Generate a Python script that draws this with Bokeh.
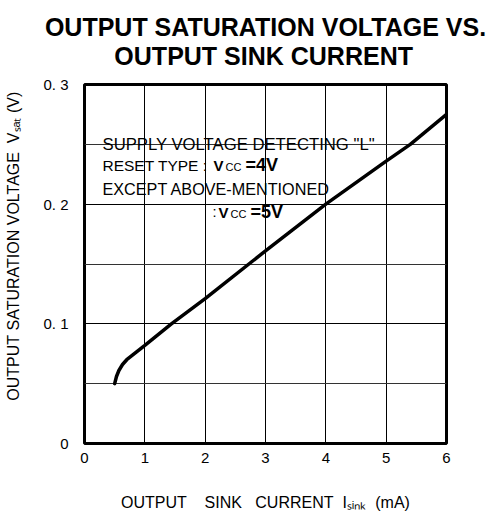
from bokeh.plotting import figure
from bokeh.models import Range1d, FixedTicker, Label, Title
from bokeh.embed import file_html
from bokeh.resources import INLINE

# ---- data ----
isink = [0.5, 0.53, 0.57, 0.63, 0.7, 0.8, 0.9, 1.0, 1.44, 2.0, 3.0, 4.0, 5.0, 5.4, 6.0]
vsat = [0.05, 0.056, 0.061, 0.066, 0.070, 0.074, 0.078, 0.082, 0.100, 0.121, 0.161, 0.200, 0.236, 0.250, 0.275]
x_ticks = [0, 1, 2, 3, 4, 5, 6]
y_ticks = [0, 0.1, 0.2, 0.3]
y_minor = [0.05, 0.15, 0.25]
y_tick_labels = ["0", "0. 1", "0. 2", "0. 3"]
title_lines = ["OUTPUT SATURATION VOLTAGE VS.", "OUTPUT SINK CURRENT"]
NB = "\u00a0"
x_title = (f"OUTPUT{NB*4}SINK{NB*3}CURRENT{NB*2}I\u209b\u1d62\u2099\u2096{NB*2}(mA)")
y_title = NB * 8 + f"OUTPUT{NB}SATURATION{NB}VOLTAGE{NB}{NB}V\u209b\u2090\u209c{NB}(V)"

FONT = "Liberation Sans"
W, H = 487, 519
# frame edges in canvas pixels
FL, FR, FT, FB = 84, 446, 83, 443
XMAX, YMAX = 6, 0.3

p = figure(width=W, height=H, output_backend="svg", toolbar_location=None,
           title=None,
           x_range=Range1d(0, XMAX), y_range=Range1d(0, YMAX),
           min_border_left=FL, min_border_right=W - FR,
           min_border_top=FT, min_border_bottom=H - FB)
p.background_fill_color = "white"
p.border_fill_color = "white"
p.outline_line_color = "black"
p.outline_line_width = 3

# two-line bold title; the second line is indented so that it sits centred
p.add_layout(Title(text=title_lines[0] + "\n" + NB * 10 + title_lines[1],
                   align="center", vertical_align="top", text_font=FONT,
                   text_font_size="25px", text_font_style="bold",
                   text_line_height=1.06,
                   text_color="black", standoff=24), "above")

p.xaxis.ticker = FixedTicker(ticks=x_ticks)
p.yaxis.ticker = FixedTicker(ticks=y_ticks, minor_ticks=y_minor)
p.yaxis.major_label_overrides = {t: s for t, s in zip(y_ticks, y_tick_labels)}
for ax in (p.xaxis[0], p.yaxis[0]):
    ax.axis_line_color = None
    ax.major_tick_line_color = None
    ax.minor_tick_line_color = None
    ax.major_label_text_font = FONT
    ax.major_label_text_font_size = "15px"
    ax.major_label_text_color = "black"
    ax.axis_label_text_font = FONT
    ax.axis_label_text_font_style = "normal"
    ax.axis_label_text_color = "black"
p.xaxis.major_label_standoff = 3
p.yaxis.major_label_standoff = 10
p.xaxis.axis_label = x_title
p.xaxis.axis_label_text_font_size = "16px"
p.xaxis.axis_label_standoff = 28
p.yaxis.axis_label = y_title
p.yaxis.axis_label_text_font_size = "16px"
p.yaxis.axis_label_standoff = 18

p.xgrid.grid_line_color = "black"
p.xgrid.grid_line_width = 1
p.ygrid.grid_line_color = "black"
p.ygrid.grid_line_width = 1
p.ygrid.minor_grid_line_color = "#333333"
p.ygrid.minor_grid_line_width = 1

p.line(isink, vsat, line_color="black", line_width=3.5, line_cap="round")


def dx(px):
    return (px - FL) / (FR - FL) * XMAX


def dy(py):
    return (FB - py) / (FB - FT) * YMAX


def txt(s, px, py, size, align="left", bold=False, bg=None, pad=0, alpha=1.0):
    lab = Label(x=dx(px), y=dy(py), text=s, text_font=FONT,
                text_font_size=f"{size}px", text_align=align,
                text_baseline="alphabetic",
                text_font_style="bold" if bold else "normal",
                text_color="black", text_alpha=alpha)
    if bg is not None:
        lab.background_fill_color = bg
        lab.padding = pad
    p.add_layout(lab)


# annotation: white boxes (transparent text) first
txt('SUPPLY VOLTAGE DETECTING "L"', 91, 138, 17, bg="white", pad=(5, 11), alpha=0)
txt("RESET TYPE : VCC=4V", 91, 159, 16, bg="white", pad=(5, 11), alpha=0)
txt("EXCEPT ABOVE-MENTIONED", 91, 183, 16, bg="white", pad=(5, 11), alpha=0)
txt(": VCC=5V", 206, 207, 16, bg="white", pad=(4, 4), alpha=0)
# annotation text
txt('SUPPLY VOLTAGE DETECTING "L"', 102, 143, 16.7)
txt("RESET TYPE :", 102, 164, 15.5)
txt("V", 213, 164, 15, bold=True)
txt("CC", 225, 166, 11)
txt("=4V", 245, 164, 18, bold=True)
txt("EXCEPT ABOVE-MENTIONED", 102, 188, 16.2)
txt(":", 212, 211, 14.5)
txt("V", 218, 211, 15, bold=True)
txt("CC", 230, 213, 11)
txt("=5V", 250, 211, 18, bold=True)

open("out.html", "w").write(file_html(p, INLINE))
